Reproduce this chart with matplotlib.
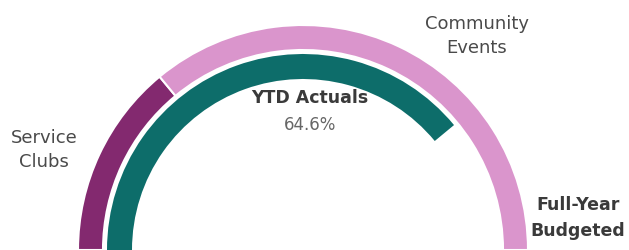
import matplotlib
matplotlib.use('Agg')
import matplotlib.pyplot as plt
from matplotlib.patches import Wedge

# budget split (outer ring) and year-to-date progress (inner ring)
budget_labels = ['Service\nClubs', 'Community\nEvents']
budget_shares = [0.28, 0.72]
budget_colors = ['#83296f', '#da95cc']
ytd_share = 0.78
ytd_label = 'YTD Actuals'
ytd_text = '64.6%'
total_label = 'Full-Year\nBudgeted'

fig = plt.figure(figsize=(6.29, 2.5), dpi=100)
ax = fig.add_axes([0, 0, 1, 1])
ax.set_xlim(0, 629)
ax.set_ylim(0, 250)
ax.axis('off')

cx, cy = 303, 0
# outer ring, drawn from the left end (180 deg) clockwise
start = 180.0
for share, col in zip(budget_shares, budget_colors):
    end = start - share * 180
    ax.add_patch(Wedge((cx, cy), 225, end, start, width=25,
                       facecolor=col, edgecolor='white', linewidth=1.5))
    start = end

# inner ring
ax.add_patch(Wedge((cx, cy), 196, 180 - ytd_share * 180, 180, width=25,
                   facecolor='#0d6d6a', edgecolor='none'))

tc = '#4a4a4a'
ax.text(44, 250 - 150, budget_labels[0], ha='center', va='center',
        fontsize=13, color=tc, linespacing=1.45)
ax.text(477, 250 - 36, budget_labels[1], ha='center', va='center',
        fontsize=13, color=tc, linespacing=1.45)
ax.text(578, 250 - 218, total_label, ha='center', va='center',
        fontsize=12.5, color='#3a3a3a', fontweight='semibold', linespacing=1.55)
ax.text(310, 250 - 98, ytd_label, ha='center', va='center',
        fontsize=12.5, color='#3a3a3a', fontweight='semibold')
ax.text(310, 250 - 125, ytd_text, ha='center', va='center',
        fontsize=12, color='#666666')

fig.savefig('out.png', dpi=100)
